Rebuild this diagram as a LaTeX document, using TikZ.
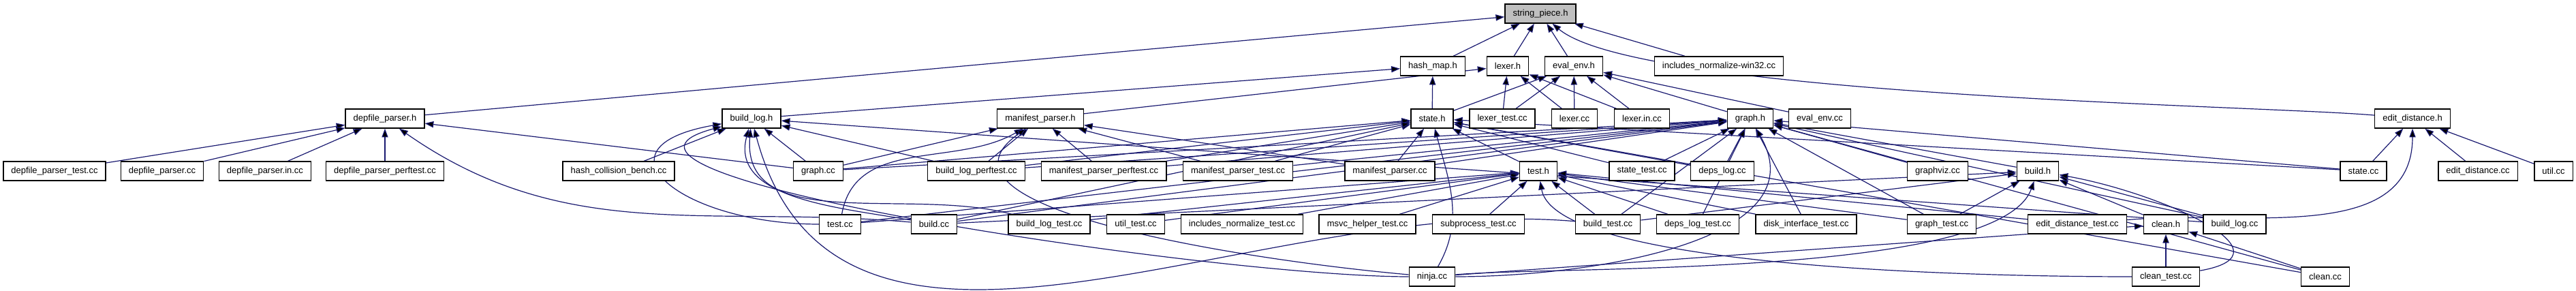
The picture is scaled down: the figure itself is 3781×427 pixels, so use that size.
\documentclass[tikz,border=0pt]{standalone}
\usepackage{fontspec}
\setmainfont{Liberation Sans}
\usetikzlibrary{arrows.meta,backgrounds}
\definecolor{edgeblue}{HTML}{191970}
\definecolor{hilite}{HTML}{BFBFBF}
\tikzset{
  file/.style={draw=black, fill=white, line width=0.35pt, minimum height=7pt,
    inner xsep=2.9pt, inner ysep=0pt, font=\fontsize{3.25}{4}\selectfont},
  dep/.style={<-, >={Triangle[length=3.2pt,width=2.3pt]}, draw=edgeblue, line width=0.3pt}
}

\begin{document}
\begin{tikzpicture}[x=0.25pt, y=-0.25pt]
  \useasboundingbox (0,0) rectangle (3781,427);
  % row 1
  \node[file, fill=hilite] (sp) at (2261,20) {string\_piece.h};
  % row 2
  \node[file] (hm) at (2103,97) {hash\_map.h};
  \node[file] (lx) at (2213,97) {lexer.h};
  \node[file] (ee) at (2310,97) {eval\_env.h};
  \node[file] (inw) at (2523,97) {includes\_normalize-win32.cc};
  % row 3
  \node[file] (dph) at (565,174) {depfile\_parser.h};
  \node[file] (blh) at (1103,174) {build\_log.h};
  \node[file] (mph) at (1527,174) {manifest\_parser.h};
  \node[file] (sth) at (2102,174) {state.h};
  \node[file] (lxt) at (2205,174) {lexer\_test.cc};
  \node[file] (lxc) at (2311,174) {lexer.cc};
  \node[file] (lxi) at (2410,174) {lexer.in.cc};
  \node[file] (grh) at (2569,174) {graph.h};
  \node[file] (eec) at (2671,174) {eval\_env.cc};
  \node[file] (edh) at (3541,174) {edit\_distance.h};
  % row 4
  \node[file] (dpt) at (80,251) {depfile\_parser\_test.cc};
  \node[file] (dpc) at (238,251) {depfile\_parser.cc};
  \node[file] (dpi) at (389,251) {depfile\_parser.in.cc};
  \node[file] (dpp) at (565,251) {depfile\_parser\_perftest.cc};
  \node[file] (hcb) at (908,251) {hash\_collision\_bench.cc};
  \node[file] (grc) at (1201,251) {graph.cc};
  \node[file] (blp) at (1433,251) {build\_log\_perftest.cc};
  \node[file] (mpp) at (1620,251) {manifest\_parser\_perftest.cc};
  \node[file] (mpt) at (1817,251) {manifest\_parser\_test.cc};
  \node[file] (mpc) at (2040,251) {manifest\_parser.cc};
  \node[file] (tsh) at (2258,251) {test.h};
  \node[file] (stt) at (2410,251) {state\_test.cc};
  \node[file] (dlc) at (2528,251) {deps\_log.cc};
  \node[file] (gvc) at (2844,251) {graphviz.cc};
  \node[file] (bdh) at (2991,251) {build.h};
  \node[file] (stc) at (3469,251) {state.cc};
  \node[file] (edc) at (3637,251) {edit\_distance.cc};
  \node[file] (utc) at (3748,251) {util.cc};
  % row 5
  \node[file] (tsc) at (1233,329) {test.cc};
  \node[file] (bdc) at (1371,329) {build.cc};
  \node[file] (blt) at (1540,329) {build\_log\_test.cc};
  \node[file] (utt) at (1667,329) {util\_test.cc};
  \node[file] (int) at (1823,329) {includes\_normalize\_test.cc};
  \node[file] (mht) at (2007,329) {msvc\_helper\_test.cc};
  \node[file] (spt) at (2170,329) {subprocess\_test.cc};
  \node[file] (bdt) at (2360,329) {build\_test.cc};
  \node[file] (dlt) at (2492,329) {deps\_log\_test.cc};
  \node[file] (dit) at (2651,329) {disk\_interface\_test.cc};
  \node[file] (grt) at (2850,329) {graph\_test.cc};
  \node[file] (edt) at (3049,329) {edit\_distance\_test.cc};
  \node[file] (clh) at (3179,329) {clean.h};
  \node[file] (blc) at (3280,329) {build\_log.cc};
  % row 6
  \node[file] (nj) at (2102,406) {ninja.cc};
  \node[file] (clt) at (3179,406) {clean\_test.cc};
  \node[file] (clc) at (3413,406) {clean.cc};

  \begin{pgfonlayer}{background}
  \path[dep]
    (sp) edge (dph) edge (hm) edge (lx) edge (ee) edge (inw)
      edge[out=-40, in=175, looseness=0.35] (edh)
    (hm) edge (blh) edge (sth)
    (lx) edge (mph) edge (lxt) edge (lxc) edge (lxi)
    (ee) edge (sth) edge (lxt) edge (lxc) edge (lxi) edge (grh) edge (eec)
    (dph) edge (dpt) edge (dpc) edge (dpi) edge (dpp) edge (grc)
      edge[out=-35, in=175] (bdc)
    (blh) edge (hcb) edge (grc) edge (blp) edge (blc)
      edge[out=-105, in=170] (bdc)
      edge[out=-95, in=165] (blt)
      edge[out=-75, in=175] (bdt)
      edge[out=190, in=180, looseness=2.5] (tsc)
      edge[out=195, in=180, looseness=0.7] (nj)
    (mph) edge (blp) edge (mpp) edge (mpt) edge (mpc) edge (grc)
      edge[out=210, in=80] (tsc)
      edge[out=215, in=175, looseness=0.9] (nj)
    (sth) edge (blp) edge (mpp) edge (mpt) edge (mpc) edge (grc) edge (tsh)
      edge (stt) edge (dlc) edge (stc) edge (clc) edge (bdc)
      edge[out=-75, in=60] (nj)
    (grh) edge (tsc) edge (bdc) edge (blp) edge (mpp) edge (mpt) edge (mpc)
      edge (grc) edge (stt) edge (dlc) edge (gvc) edge (bdh) edge (stc)
      edge (bdt) edge (dlt) edge (dit) edge (grt) edge (blc) edge (clc)
      edge[out=-60, in=0] (nj)
    (tsh) edge (tsc) edge (blt) edge (utt) edge (int) edge (mht) edge (spt)
      edge (bdt) edge (dlt) edge (dit) edge (grt) edge (edt)
      edge[out=-80, in=180, looseness=0.4] (clt)
    (bdh) edge (bdc) edge (bdt) edge (grt) edge (clh) edge (blc)
      edge[out=-10, in=10, looseness=1.5] (clt)
      edge[out=-110, in=5, looseness=0.45] (nj)
    (edh) edge (stc) edge (edc) edge (utc)
      edge[out=-90, in=5] (edt)
    (clh) edge (clt) edge (clc) edge (nj);
  \end{pgfonlayer}
\end{tikzpicture}
\end{document}
